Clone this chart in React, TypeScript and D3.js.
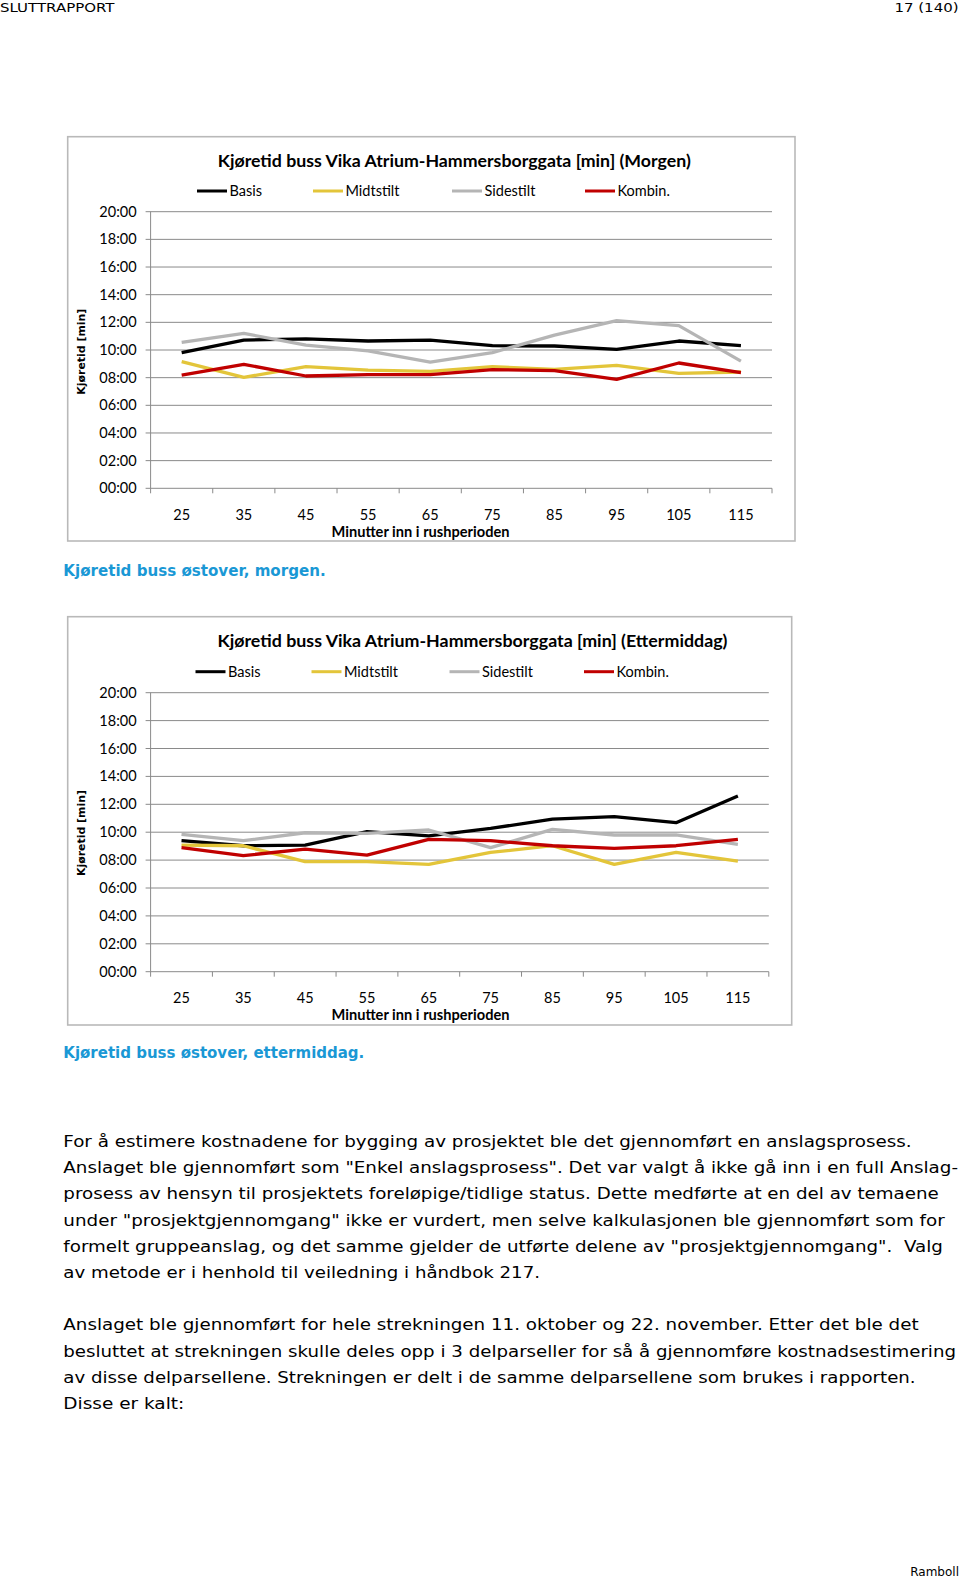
import React from 'react';
import * as d3 from 'd3';

// ---------- DATA ----------
const categories = ['25', '35', '45', '55', '65', '75', '85', '95', '105', '115'];
const yTickValues = [0, 2, 4, 6, 8, 10, 12, 14, 16, 18, 20];
const yTickLabels = ['00:00', '02:00', '04:00', '06:00', '08:00', '10:00', '12:00', '14:00', '16:00', '18:00', '20:00'];
const seriesNames = ['Basis', 'Midtstilt', 'Sidestilt', 'Kombin.'];
const seriesColors = ['#000000', '#e3c53a', '#b5b5b5', '#c00000'];

// Morning (minutes)
const morningBasis = [9.81, 10.72, 10.8, 10.65, 10.72, 10.31, 10.29, 10.05, 10.65, 10.31];
const morningMidtstilt = [9.16, 8.02, 8.8, 8.55, 8.46, 8.8, 8.6, 8.89, 8.31, 8.41];
const morningSidestilt = [10.55, 11.2, 10.36, 9.93, 9.13, 9.81, 11.08, 12.12, 11.76, 9.2];
const morningKombin = [8.19, 8.96, 8.12, 8.22, 8.22, 8.58, 8.51, 7.88, 9.06, 8.36];

// Afternoon (minutes)
const afternoonBasis = [9.39, 9.03, 9.08, 10.04, 9.73, 10.27, 10.94, 11.11, 10.68, 12.59];
const afternoonMidtstilt = [9.08, 9.03, 7.89, 7.89, 7.69, 8.55, 9.03, 7.69, 8.55, 7.93];
const afternoonSidestilt = [9.84, 9.39, 9.96, 9.92, 10.16, 8.89, 10.2, 9.8, 9.8, 9.13];
const afternoonKombin = [8.89, 8.32, 8.79, 8.36, 9.49, 9.39, 9.03, 8.84, 9.03, 9.49];

const morningTitle = 'Kjøretid buss Vika Atrium-Hammersborggata [min] (Morgen)';
const afternoonTitle = 'Kjøretid buss Vika Atrium-Hammersborggata [min] (Ettermiddag)';
const yAxisTitle = 'Kjøretid [min]';
const xAxisTitle = 'Minutter inn i rushperioden';

const bodyParagraph1 = [
  'For å estimere kostnadene for bygging av prosjektet ble det gjennomført en anslagsprosess.',
  'Anslaget ble gjennomført som "Enkel anslagsprosess". Det var valgt å ikke gå inn i en full Anslag-',
  'prosess av hensyn til prosjektets foreløpige/tidlige status. Dette medførte at en del av temaene',
  'under "prosjektgjennomgang" ikke er vurdert, men selve kalkulasjonen ble gjennomført som for',
  'formelt gruppeanslag, og det samme gjelder de utførte delene av "prosjektgjennomgang".  Valg',
  'av metode er i henhold til veiledning i håndbok 217.',
];
const bodyParagraph1Ends = [911.6, 958, 938.8, 944.8, 942.8, 540];
const bodyParagraph2 = [
  'Anslaget ble gjennomført for hele strekningen 11. oktober og 22. november. Etter det ble det',
  'besluttet at strekningen skulle deles opp i 3 delparseller for så å gjennomføre kostnadsestimering',
  'av disse delparsellene. Strekningen er delt i de samme delparsellene som brukes i rapporten.',
  'Disse er kalt:',
];
const bodyParagraph2Ends = [918.6, 956, 915.6, 184.3];

const chartFont = 'Lato, "Open Sans", sans-serif';
const pageFont = '"DejaVu Sans", Verdana, sans-serif';

type Layout = {
  box: [number, number, number, number];
  plot: [number, number, number, number]; // left, top, right, bottom
  titleX: number;
  titleLen: number;
  titleBaseline: number;
  legendY: number;
  legendX: number[];
  xLabelBaseline: number;
  xTitleBaseline: number;
  yTitleY: number;
};

function LineChart({ layout, title, series }: { layout: Layout; title: string; series: number[][] }) {
  const [pl, pt, pr, pb] = layout.plot;
  const x = d3.scaleBand<string>().domain(categories).range([pl, pr]).padding(0);
  const y = d3.scaleLinear().domain([0, 20]).range([pb, pt]);
  const line = d3
    .line<number>()
    .x((_, i) => (x(categories[i]) as number) + x.bandwidth() / 2)
    .y((d) => y(d));
  const [bx, by, bw, bh] = layout.box;
  const boundaries = categories.map((c) => x(c) as number).concat([pr]);
  return (
    <g>
      <rect x={bx} y={by} width={bw} height={bh} fill="#fff" stroke="#b9b9b9" strokeWidth={1.6} />
      <text
        x={layout.titleX}
        y={layout.titleBaseline}
        fontFamily={chartFont}
        fontWeight="bold"
        fontSize={17}
        textAnchor="middle"
        textLength={layout.titleLen}
        lengthAdjust="spacingAndGlyphs"
        fill="#000"
      >
        {title}
      </text>
      {seriesNames.map((n, i) => (
        <g key={n}>
          <line
            x1={layout.legendX[i]}
            x2={layout.legendX[i] + 30}
            y1={layout.legendY}
            y2={layout.legendY}
            stroke={seriesColors[i]}
            strokeWidth={3}
          />
          <text x={layout.legendX[i] + 32.5} y={layout.legendY + 5} fontFamily={chartFont} fontSize={14.5} fill="#000">
            {n}
          </text>
        </g>
      ))}
      {yTickValues.map((v, i) => (
        <g key={v}>
          <line x1={pl - 5} x2={pr} y1={y(v)} y2={y(v)} stroke="#8a8a8a" strokeWidth={1} />
          <text x={pl - 14} y={y(v) + 5} textAnchor="end" fontFamily={chartFont} fontSize={14.5} fill="#000">
            {yTickLabels[i]}
          </text>
        </g>
      ))}
      <line x1={pl} x2={pl} y1={pt} y2={pb} stroke="#8a8a8a" strokeWidth={1} />
      {boundaries.map((b, i) => (
        <line key={i} x1={b} x2={b} y1={pb} y2={pb + 5} stroke="#8a8a8a" strokeWidth={1} />
      ))}
      {categories.map((c) => (
        <text
          key={c}
          x={(x(c) as number) + x.bandwidth() / 2}
          y={layout.xLabelBaseline}
          textAnchor="middle"
          fontFamily={chartFont}
          fontSize={14.5}
          fill="#000"
        >
          {c}
        </text>
      ))}
      <text
        x={420.5}
        y={layout.xTitleBaseline}
        textAnchor="middle"
        fontFamily={chartFont}
        fontWeight="bold"
        fontSize={14.5}
        textLength={178}
        lengthAdjust="spacingAndGlyphs"
        fill="#000"
      >
        {xAxisTitle}
      </text>
      <text
        transform={`translate(85,${layout.yTitleY}) rotate(-90)`}
        textAnchor="middle"
        fontFamily={pageFont}
        fontWeight="bold"
        fontSize={11}
        textLength={86}
        lengthAdjust="spacingAndGlyphs"
        fill="#000"
      >
        {yAxisTitle}
      </text>
      {series.map((s, i) => (
        <path
          key={i}
          d={line(s) as string}
          fill="none"
          stroke={seriesColors[i]}
          strokeWidth={3.3}
          strokeLinejoin="round"
        />
      ))}
    </g>
  );
}

const morningLayout: Layout = {
  box: [67.7, 136.7, 727.3, 404.3],
  plot: [150.6, 211.7, 772, 488.3],
  titleX: 454.3,
  titleLen: 473,
  titleBaseline: 166.5,
  legendY: 191,
  legendX: [197, 313, 452, 585],
  xLabelBaseline: 520,
  xTitleBaseline: 536.5,
  yTitleY: 351.7,
};

const afternoonLayout: Layout = {
  box: [67.7, 616.7, 724, 408.3],
  plot: [150.6, 692.7, 768.8, 971.7],
  titleX: 472.5,
  titleLen: 510,
  titleBaseline: 647,
  legendY: 671.7,
  legendX: [195.5, 311.5, 449.5, 584],
  xLabelBaseline: 1003.3,
  xTitleBaseline: 1020,
  yTitleY: 833,
};

export default function App() {
  const morning = [morningBasis, morningMidtstilt, morningSidestilt, morningKombin];
  const afternoon = [afternoonBasis, afternoonMidtstilt, afternoonSidestilt, afternoonKombin];
  const lineStep = 26.2;
  return (
    <svg
      width={960}
      height={1579}
      style={{ position: 'absolute', left: 0, top: 0, background: '#fff' }}
      xmlns="http://www.w3.org/2000/svg"
    >
      <rect x={0} y={0} width={960} height={1579} fill="#fff" />
      <text x={0} y={12} fontFamily={pageFont} fontSize={13} textLength={114.5} lengthAdjust="spacingAndGlyphs">
        SLUTTRAPPORT
      </text>
      <text x={894.5} y={12} fontFamily={pageFont} fontSize={13} textLength={64} lengthAdjust="spacingAndGlyphs">
        17 (140)
      </text>

      <LineChart layout={morningLayout} title={morningTitle} series={morning} />
      <text
        x={63.3}
        y={576}
        fontFamily={pageFont}
        fontWeight="bold"
        fontSize={15}
        fill="#1a98d5"
        textLength={262.4}
        lengthAdjust="spacingAndGlyphs"
      >
        Kjøretid buss østover, morgen.
      </text>

      <LineChart layout={afternoonLayout} title={afternoonTitle} series={afternoon} />
      <text
        x={63.3}
        y={1058.3}
        fontFamily={pageFont}
        fontWeight="bold"
        fontSize={15}
        fill="#1a98d5"
        textLength={301}
        lengthAdjust="spacingAndGlyphs"
      >
        Kjøretid buss østover, ettermiddag.
      </text>

      {bodyParagraph1.map((t, i) => (
        <text
          key={'p1' + i}
          x={63.3}
          y={1147 + i * lineStep}
          fontFamily={pageFont}
          fontSize={16}
          fill="#000"
          textLength={bodyParagraph1Ends[i] - 63.3}
          lengthAdjust="spacingAndGlyphs"
          style={{ whiteSpace: 'pre' }}
        >
          {t}
        </text>
      ))}
      {bodyParagraph2.map((t, i) => (
        <text
          key={'p2' + i}
          x={63.3}
          y={1330.4 + i * lineStep}
          fontFamily={pageFont}
          fontSize={16}
          fill="#000"
          textLength={bodyParagraph2Ends[i] - 63.3}
          lengthAdjust="spacingAndGlyphs"
          style={{ whiteSpace: 'pre' }}
        >
          {t}
        </text>
      ))}
      <text x={959} y={1575.5} fontFamily={pageFont} fontSize={12} textAnchor="end" fill="#000">
        Ramboll
      </text>
    </svg>
  );
}
